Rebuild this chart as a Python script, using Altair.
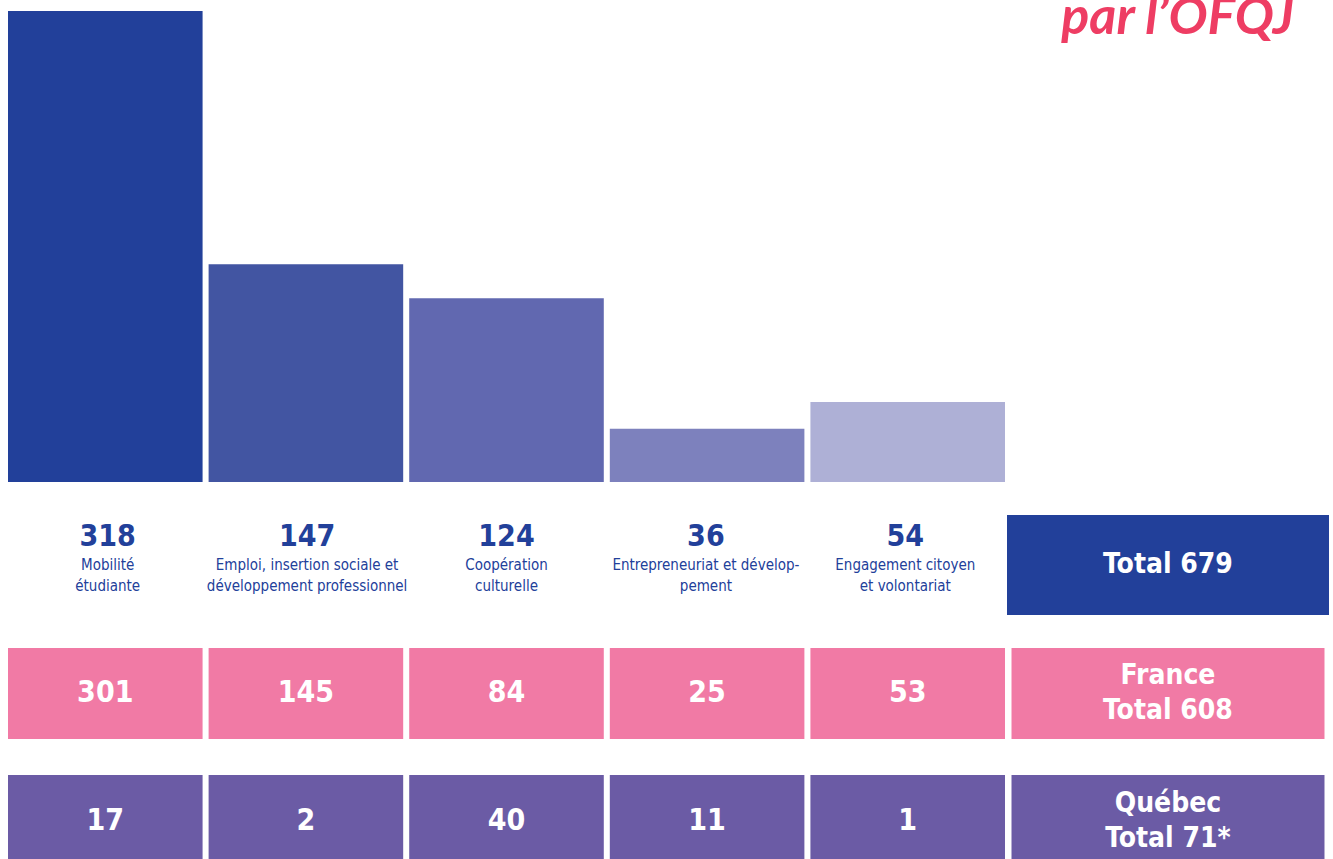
import altair as alt
import pandas as pd

# ---- data ----
cats = ["Mobilité", "Emploi", "Coopération", "Entrepreneuriat", "Engagement"]
labels = [
    "Mobilité\nétudiante",
    "Emploi, insertion sociale  et\ndéveloppement professionnel",
    "Coopération\nculturelle",
    "Entrepreneuriat et dévelop-\npement",
    "Engagement citoyen\net volontariat",
]
totals = [318, 147, 124, 36, 54]
france = [301, 145, 84, 25, 53]
quebec = [17, 2, 40, 11, 1]
rows = ["France", "Québec"]
row_totals = ["France\nTotal 608", "Québec\nTotal 71*"]
grand_total = "Total 679"
title_text = "par l’OFQJ"

# ---- styles ----
bar_colors = ["#22409a", "#4255a2", "#6168b0", "#7d81bd", "#aeb0d6"]
blue = "#22409a"
pink = "#f17aa5"
purple = "#6b5ba5"
title_pink = "#ee3d63"
FONT = "DejaVu Sans Condensed, Roboto, sans-serif"

df = pd.DataFrame({"cat": cats, "label": labels, "total": totals})
tbl = pd.DataFrame(
    {
        "cat": cats * 2,
        "row": [rows[0]] * len(cats) + [rows[1]] * len(cats),
        "value": france + quebec,
    }
)
right_tbl = pd.DataFrame({"cat": ["Total"] * 2, "row": rows, "text": row_totals})

LEFT_W = 997
RIGHT_W = 322
TOP_H = 482

x_enc = alt.X("cat:N", sort=cats, axis=None,
              scale=alt.Scale(paddingInner=0.03, paddingOuter=0))
row_scale = alt.Scale(domain=rows, paddingInner=0.2835, paddingOuter=0)
row_color = alt.Color("row:N", scale=alt.Scale(domain=rows, range=[pink, purple]), legend=None)

# ---- left panel ----
bars = alt.Chart(df).mark_bar().encode(
    x=x_enc,
    y=alt.Y("total:Q", axis=None, scale=alt.Scale(domain=[0, 325.4], nice=False)),
    color=alt.Color("cat:N", scale=alt.Scale(domain=cats, range=bar_colors), legend=None),
).properties(width=LEFT_W, height=TOP_H)

nums = alt.Chart(df).mark_text(
    dy=-28, fontSize=30, fontWeight="bold", font=FONT, color=blue
).encode(x=x_enc, text="total:Q")
labs = alt.Chart(df).mark_text(
    dy=0, fontSize=15, font=FONT, color=blue, lineBreak="\n", lineHeight=21,
    baseline="middle"
).encode(x=x_enc, text="label:N")
label_row = alt.layer(nums, labs).properties(width=LEFT_W, height=166)

cells = alt.Chart(tbl).mark_rect().encode(
    x=x_enc,
    y=alt.Y("row:N", sort=rows, axis=None, scale=row_scale),
    color=row_color,
)
cell_text = alt.Chart(tbl).mark_text(
    fontSize=30, fontWeight="bold", font=FONT, color="white"
).encode(
    x=x_enc,
    y=alt.Y("row:N", sort=rows, axis=None, scale=row_scale),
    text="value:Q",
)
table = alt.layer(cells, cell_text).properties(width=LEFT_W, height=218)

left = alt.vconcat(bars, label_row, table, spacing=0).resolve_scale(color="independent")

# ---- right panel ----
title = alt.Chart(pd.DataFrame({"t": [title_text]})).mark_text(
    align="right", baseline="alphabetic", fontSize=52, fontWeight="bold",
    fontStyle="italic", font="Lato", color=title_pink, clip=True
).encode(text="t:N", x=alt.value(287), y=alt.value(34)).properties(width=RIGHT_W, height=TOP_H)

tot_df = pd.DataFrame({"k": ["total"], "t": [grand_total]})
tot_scale = alt.Scale(paddingInner=0, paddingOuter=0.33)
tot_rect = alt.Chart(tot_df).mark_rect(color=blue).encode(
    y=alt.Y("k:N", axis=None, scale=tot_scale)
)
tot_text = alt.Chart(tot_df).mark_text(
    fontSize=28, fontWeight="bold", font=FONT, color="white"
).encode(y=alt.Y("k:N", axis=None, scale=tot_scale), text="t:N")
total_row = alt.layer(tot_rect, tot_text).properties(width=RIGHT_W, height=166)

rx = alt.X("cat:N", axis=None, scale=alt.Scale(paddingInner=0, paddingOuter=0.0144))
r_cells = alt.Chart(right_tbl).mark_rect().encode(
    x=rx, y=alt.Y("row:N", sort=rows, axis=None, scale=row_scale), color=row_color
)
r_text = alt.Chart(right_tbl).mark_text(
    dy=-17, fontSize=28, fontWeight="bold", font=FONT, color="white",
    lineBreak="\n", lineHeight=35
).encode(
    x=rx, y=alt.Y("row:N", sort=rows, axis=None, scale=row_scale), text="text:N"
)
right_table = alt.layer(r_cells, r_text).properties(width=RIGHT_W, height=218)

right = alt.vconcat(title, total_row, right_table, spacing=0).resolve_scale(color="independent")

chart = alt.hconcat(left, right, spacing=1).resolve_scale(color="independent").properties(
    padding={"left": 8, "top": 0, "right": 0, "bottom": 0}
).configure(background="white").configure_view(stroke=None)

chart.save("out.html", embed_options={"renderer": "svg", "actions": False})
